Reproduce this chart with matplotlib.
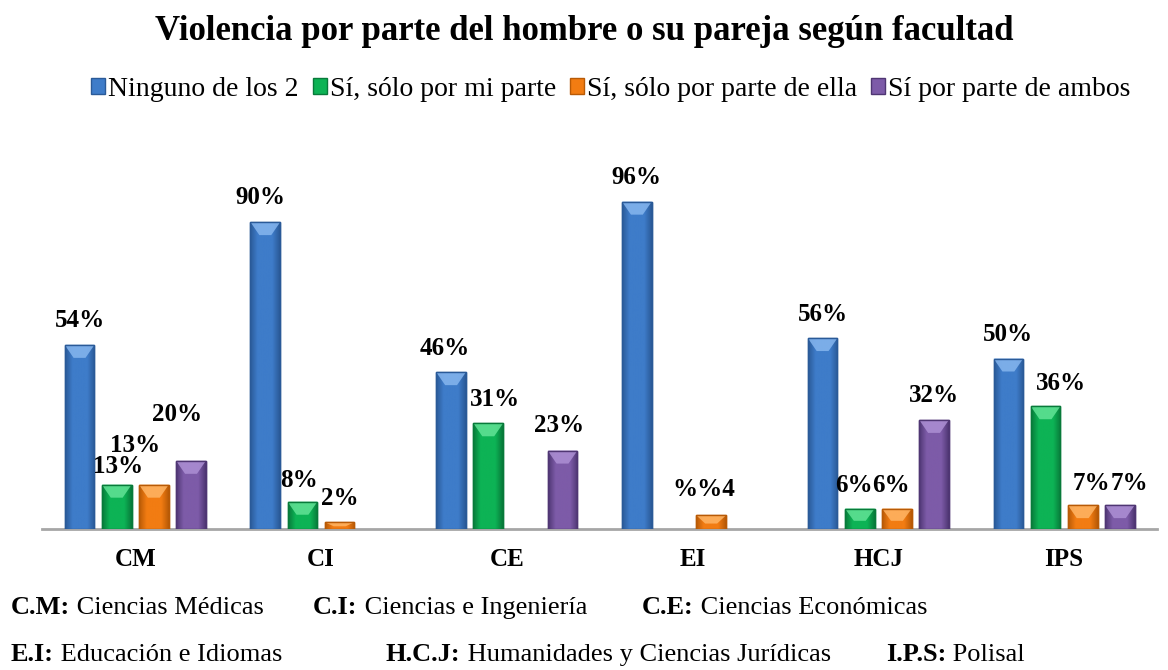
import numpy as np
import matplotlib
matplotlib.use("Agg")
import matplotlib.pyplot as plt
from matplotlib.patches import Polygon, Patch
from matplotlib.colors import LinearSegmentedColormap

plt.rcParams['font.family'] = ['Liberation Serif', 'DejaVu Serif']

# ---------------- data ----------------
title = "Violencia por parte del hombre o su pareja según facultad"
categories = ["CM", "CI", "CE", "EI", "HCJ", "IPS"]
series_names = ["Ninguno de los 2", "Sí, sólo por mi parte",
                "Sí, sólo por parte de ella", "Sí por parte de ambos"]
ninguno = [54, 90, 46, 96, 56, 50]
mi_parte = [13, 8, 31, 0, 6, 36]
ella = [13, 2, 0, 4, 6, 7]
ambos = [20, 0, 23, 0, 32, 7]
labels_ninguno = ["54%", "90%", "46%", "96%", "56%", "50%"]
labels_mi_parte = ["13%", "8%", "31%", None, "6%", "36%"]
labels_ella = ["13%", "2%", None, "%%4", "6%", "7%"]
labels_ambos = ["20%", None, "23%", None, "32%", "7%"]
footer_line1 = [("C.M:", "Ciencias Médicas"), ("C.I:", "Ciencias e Ingeniería"),
                ("C.E:", "Ciencias Económicas")]
footer_line2 = [("E.I:", "Educación e Idiomas"),
                ("H.C.J:", "Humanidades y Ciencias Jurídicas"),
                ("I.P.S:", "Polisal")]

series = [ninguno, mi_parte, ella, ambos]
series_labels = [labels_ninguno, labels_mi_parte, labels_ella, labels_ambos]

# ---------------- style ----------------
face = ["#3E7CC9", "#0DB355", "#F27C12", "#7D5BA8"]
dark = ["#2A5A98", "#087A3A", "#B85A06", "#4F3673"]
light = ["#86B6EE", "#62E396", "#FFB565", "#AD90D4"]

# label offsets in pixels: (dx, dy above bar top)
label_offsets = {
    (1, 0): (1, 18), (2, 0): (-19, 39), (3, 0): (-14, 46),
    (0, 1): (-5, 25), (1, 1): (-3, 21),
    (0, 2): (-6, 24), (1, 2): (7, 24), (3, 2): (-3, 25),
    (2, 3): (-7, 26),
    (1, 4): (-6, 23), (2, 4): (-6, 23),
    (1, 5): (15, 23), (2, 5): (9, 22), (3, 5): (10, 22),
}

W, H = 1168, 670
fig = plt.figure(figsize=(W / 100, H / 100), dpi=100)
ax_left, ax_right = 42.4 / W, 1157 / W
ax_bottom = 1 - 529 / H
ax_height = (529 - 188) / H
ax = fig.add_axes([ax_left, ax_bottom, ax_right - ax_left, ax_height])
ax.set_xlim(-0.5, len(categories) - 0.5)
ax.set_ylim(0, 100)

pitch = 0.2
width = 0.16
x = np.arange(len(categories))
px_per_unit_y = (529 - 188) / 100.0
bevel_px = 13

for si, (vals, labs) in enumerate(zip(series, series_labels)):
    offs = (si - 1.5) * pitch
    bars = ax.bar(x + offs, vals, width=width, color=face[si],
                  edgecolor=dark[si], linewidth=1.0, zorder=3)
    cmap = LinearSegmentedColormap.from_list(
        "g%d" % si, [dark[si], face[si], face[si], face[si], dark[si]])
    grad = np.linspace(0, 1, 64).reshape(1, -1)
    for gi, b in enumerate(bars):
        h = b.get_height()
        if h <= 0:
            b.set_visible(False)
            continue
        x0 = b.get_x()
        x1 = x0 + b.get_width()
        im = ax.imshow(grad, cmap=cmap, extent=[x0, x1, 0, h],
                       aspect='auto', zorder=3.5, origin='lower')
        im.set_clip_path(b)
        d = min(bevel_px / px_per_unit_y, h * 0.6)
        inset = b.get_width() * 0.3
        tri = Polygon([[x0, h], [x1, h], [x1 - inset, h - d], [x0 + inset, h - d]],
                      closed=True, facecolor=light[si], edgecolor='none',
                      alpha=0.85, zorder=4)
        ax.add_patch(tri)
        edge = Polygon([[x0, 0], [x0, h], [x1, h], [x1, 0]], closed=True,
                       fill=False, edgecolor=dark[si], linewidth=1.0, zorder=4.5)
        ax.add_patch(edge)
        lab = labs[gi]
        if lab is not None:
            dx, dy = label_offsets.get((si, gi), (0, 24))
            ax.annotate(lab, xy=(x0 + b.get_width() / 2, h), xytext=(dx, dy),
                        textcoords='offset pixels', ha='center', va='center',
                        fontsize=18, fontweight='bold', zorder=6)

for s in ['top', 'right', 'left']:
    ax.spines[s].set_visible(False)
ax.spines['bottom'].set_color('#A6A6A6')
ax.spines['bottom'].set_linewidth(2)
ax.spines['bottom'].set_zorder(2)
ax.set_yticks([])
ax.set_xticks(x)
ax.set_xticklabels(categories, fontsize=18, fontweight='bold')
ax.tick_params(axis='x', length=0, pad=14)
ax.patch.set_alpha(0)

fig.text(0.5, 1 - 32 / H, title, ha='center', va='center',
         fontsize=25, fontweight='bold')

handles = [Patch(facecolor=face[i], edgecolor=dark[i]) for i in range(4)]
fig.legend(handles, series_names, loc='center left', bbox_to_anchor=(91 / W, 1 - 89 / H),
           ncol=4, frameon=False, fontsize=20, handlelength=0.5,
           handleheight=0.5, handletextpad=0.12, columnspacing=0.5,
           borderaxespad=0, borderpad=0)

def footer(items, xs, ypix):
    for (b, t), xp in zip(items, xs):
        bt = fig.text(xp / W, 1 - ypix / H, b, ha='left', va='baseline',
                      fontsize=19, fontweight='bold')
        plt.annotate(" " + t, xy=(1, 0), xycoords=bt, xytext=(0, 0),
                     textcoords='offset pixels', ha='left', va='bottom',
                     fontsize=19)

footer(footer_line1, [11, 313, 642], 614)
footer(footer_line2, [11, 386, 886], 661)

fig.savefig("out.png", dpi=100)
